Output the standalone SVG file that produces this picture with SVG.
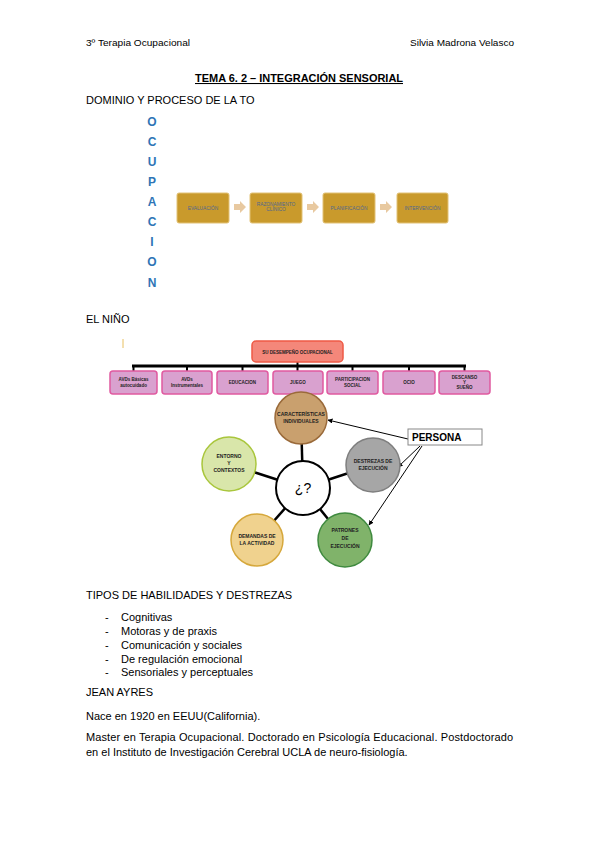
<svg xmlns="http://www.w3.org/2000/svg" width="599" height="848" viewBox="0 0 599 848">
<defs>
<style>
.t{font-family:"Liberation Sans",Arial,sans-serif;fill:#000}
.hd{font-size:9.5px}
.body{font-size:11px}
.ocu{font-family:"Liberation Sans",Arial,sans-serif;font-weight:bold;font-size:12px;fill:#2e75b6;text-anchor:middle}
.flow{fill:#c99a2c;stroke:#e2c277;stroke-width:1}
.ft{font-family:"Liberation Sans",Arial,sans-serif;font-size:4.8px;fill:#4f6790;text-anchor:middle}
.child{fill:#d9a1cf;stroke:#e05aa0;stroke-width:1.5}
.ct{font-family:"Liberation Sans",Arial,sans-serif;font-size:4.5px;font-weight:bold;fill:#222;text-anchor:middle}
.bar{stroke:#000;stroke-width:3;fill:none}
.drop{stroke:#000;stroke-width:2;fill:none}
.spoke{stroke:#000;stroke-width:2.5}
.cl{font-family:"Liberation Sans",Arial,sans-serif;font-size:5px;font-weight:bold;fill:#222;text-anchor:middle}
.arr{stroke:#000;stroke-width:1;fill:none;marker-end:url(#ah)}
</style>
<marker id="ah" viewBox="0 0 10 10" refX="9" refY="5" markerWidth="5" markerHeight="5" orient="auto">
<path d="M0,0 L10,5 L0,10 z" fill="#000"/>
</marker>
</defs>
<rect width="599" height="848" fill="#fff"/>

<text class="t hd" x="86" y="46" textLength="104" lengthAdjust="spacingAndGlyphs">3º Terapia Ocupacional</text>
<text class="t hd" x="410" y="46" textLength="104" lengthAdjust="spacingAndGlyphs">Silvia Madrona Velasco</text>
<text class="t" x="299" y="82" font-size="10.5" font-weight="bold" text-anchor="middle" text-decoration="underline" textLength="208" lengthAdjust="spacingAndGlyphs">TEMA 6. 2 – INTEGRACIÓN SENSORIAL</text>
<text class="t body" x="86" y="104">DOMINIO Y PROCESO DE LA TO</text>

<g id="ocupacion">
<text class="ocu" x="152" y="126">O</text>
<text class="ocu" x="152" y="146">C</text>
<text class="ocu" x="152" y="166">U</text>
<text class="ocu" x="152" y="186">P</text>
<text class="ocu" x="152" y="206">A</text>
<text class="ocu" x="152" y="226">C</text>
<text class="ocu" x="152" y="246">I</text>
<text class="ocu" x="152" y="266">O</text>
<text class="ocu" x="152" y="287">N</text>
</g>

<g id="connectors-flow">
<path d="M234,204 h6 v-3 l6,6 l-6,6 v-3 h-6 z" fill="#e8c9a0"/>
<path d="M307,204 h6 v-3 l6,6 l-6,6 v-3 h-6 z" fill="#e8c9a0"/>
<path d="M380,204 h6 v-3 l6,6 l-6,6 v-3 h-6 z" fill="#e8c9a0"/>
</g>
<g id="evaluacion"><rect class="flow" x="177" y="193" width="52" height="30" rx="2"/><text class="ft" x="203" y="209.5">EVALUACIÓN</text></g>
<g id="razonamiento"><rect class="flow" x="250" y="193" width="52" height="30" rx="2"/><text class="ft" x="276" y="206">RAZONAMIENTO</text><text class="ft" x="276" y="211">CLÍNICO</text></g>
<g id="planificacion"><rect class="flow" x="323" y="193" width="52" height="30" rx="2"/><text class="ft" x="349" y="209.5">PLANIFICACIÓN</text></g>
<g id="intervencion"><rect class="flow" x="397" y="193" width="51" height="30" rx="2"/><text class="ft" x="422.5" y="209.5">INTERVENCIÓN</text></g>

<text class="t body" x="86" y="323">EL NIÑO</text>

<line x1="123" y1="339" x2="123" y2="348" stroke="#e8c060" stroke-width="1"/>

<g id="connectors-tree">
<line class="drop" x1="297.5" y1="362" x2="297.5" y2="366"/>
<line class="bar" x1="132" y1="366" x2="466" y2="366"/>
<line class="drop" x1="133.5" y1="366" x2="133.5" y2="371"/>
<line class="drop" x1="187" y1="366" x2="187" y2="371"/>
<line class="drop" x1="242.5" y1="366" x2="242.5" y2="371"/>
<line class="drop" x1="297.5" y1="366" x2="297.5" y2="371"/>
<line class="drop" x1="352.5" y1="366" x2="352.5" y2="371"/>
<line class="drop" x1="409" y1="366" x2="409" y2="371"/>
<line class="drop" x1="464.5" y1="366" x2="464.5" y2="371"/>
</g>
<g id="desempeno"><rect x="252" y="341" width="91" height="21" rx="4" fill="#f4877a" stroke="#ee5a45" stroke-width="1.5"/><text class="ct" x="297.5" y="353.5">SU DESEMPEÑO OCUPACIONAL</text></g>
<g id="avd-basicas"><rect class="child" x="110" y="371" width="47" height="23" rx="3"/><text class="ct" x="133.5" y="381">AVDs Básicas</text><text class="ct" x="133.5" y="387">autocuidado</text></g>
<g id="avd-instr"><rect class="child" x="162" y="371" width="50" height="23" rx="3"/><text class="ct" x="187" y="381">AVDs</text><text class="ct" x="187" y="387">Instrumentales</text></g>
<g id="educacion"><rect class="child" x="217" y="371" width="51" height="23" rx="3"/><text class="ct" x="242.5" y="384">EDUCACION</text></g>
<g id="juego"><rect class="child" x="273" y="371" width="50" height="23" rx="3"/><text class="ct" x="298" y="384">JUEGO</text></g>
<g id="participacion"><rect class="child" x="327" y="371" width="51" height="23" rx="3"/><text class="ct" x="352.5" y="381">PARTICIPACION</text><text class="ct" x="352.5" y="387">SOCIAL</text></g>
<g id="ocio"><rect class="child" x="383" y="371" width="52" height="23" rx="3"/><text class="ct" x="409" y="384">OCIO</text></g>
<g id="descanso"><rect class="child" x="439" y="371" width="51" height="23" rx="3"/><text class="ct" x="464.5" y="379">DESCANSO</text><text class="ct" x="464.5" y="384">Y</text><text class="ct" x="464.5" y="389">SUEÑO</text></g>

<g id="connectors-circles">
<line class="spoke" x1="303" y1="488" x2="301" y2="418"/>
<line class="spoke" x1="303" y1="488" x2="229" y2="464"/>
<line class="spoke" x1="303" y1="488" x2="373" y2="465"/>
<line class="spoke" x1="303" y1="488" x2="257" y2="540"/>
<line class="spoke" x1="303" y1="488" x2="345" y2="540"/>
<line class="arr" x1="408" y1="439" x2="328" y2="420"/>
<line class="arr" x1="420" y1="446" x2="398" y2="467"/>
<line class="arr" x1="422" y1="446" x2="369" y2="525"/>
</g>
<g id="centro"><circle cx="303" cy="488" r="27" fill="#fff" stroke="#000" stroke-width="2"/><text class="t" x="303" y="493" font-size="14" text-anchor="middle">¿?</text></g>
<g id="caracteristicas"><circle cx="301" cy="418" r="26" fill="#c9a06e" stroke="#9a6a3a" stroke-width="1.5"/><text class="cl" x="301" y="416">CARACTERÍSTICAS</text><text class="cl" x="301" y="423">INDIVIDUALES</text></g>
<g id="entorno"><circle cx="229" cy="464" r="27" fill="#d9e6aa" stroke="#a9c63c" stroke-width="1.5"/><text class="cl" x="229" y="458">ENTORNO</text><text class="cl" x="229" y="465">Y</text><text class="cl" x="229" y="472">CONTEXTOS</text></g>
<g id="destrezas"><circle cx="373" cy="465" r="27" fill="#a6a6a6" stroke="#7f7f7f" stroke-width="1.5"/><text class="cl" x="373" y="463">DESTREZAS DE</text><text class="cl" x="373" y="470">EJECUCIÓN</text></g>
<g id="demandas"><circle cx="257" cy="540" r="26" fill="#f0d28e" stroke="#d6a83c" stroke-width="1.5"/><text class="cl" x="257" y="538">DEMANDAS DE</text><text class="cl" x="257" y="545">LA ACTIVIDAD</text></g>
<g id="patrones"><circle cx="345" cy="540" r="27" fill="#80b36a" stroke="#3f8a3f" stroke-width="1.5"/><text class="cl" x="345" y="532">PATRONES</text><text class="cl" x="345" y="540">DE</text><text class="cl" x="345" y="548">EJECUCIÓN</text></g>
<g id="persona"><rect x="408" y="429" width="74" height="16" fill="#fff" stroke="#888" stroke-width="1"/><text class="t" x="412" y="441" font-size="10" font-weight="bold">PERSONA</text></g>

<text class="t body" x="86" y="599">TIPOS DE HABILIDADES Y DESTREZAS</text>
<text class="t body" x="105" y="621">-</text><text class="t body" x="121" y="621">Cognitivas</text>
<text class="t body" x="105" y="635">-</text><text class="t body" x="121" y="635">Motoras y de praxis</text>
<text class="t body" x="105" y="649">-</text><text class="t body" x="121" y="649">Comunicación y sociales</text>
<text class="t body" x="105" y="663">-</text><text class="t body" x="121" y="663">De regulación emocional</text>
<text class="t body" x="105" y="676">-</text><text class="t body" x="121" y="676">Sensoriales y perceptuales</text>
<text class="t body" x="86" y="696">JEAN AYRES</text>
<text class="t body" x="86" y="720">Nace en 1920 en EEUU(California).</text>
<text class="t body" x="86" y="741" textLength="427" lengthAdjust="spacing">Master en Terapia Ocupacional. Doctorado en Psicología Educacional. Postdoctorado</text>
<text class="t body" x="86" y="756">en el Instituto de Investigación Cerebral UCLA de neuro-fisiología.</text>
</svg>
